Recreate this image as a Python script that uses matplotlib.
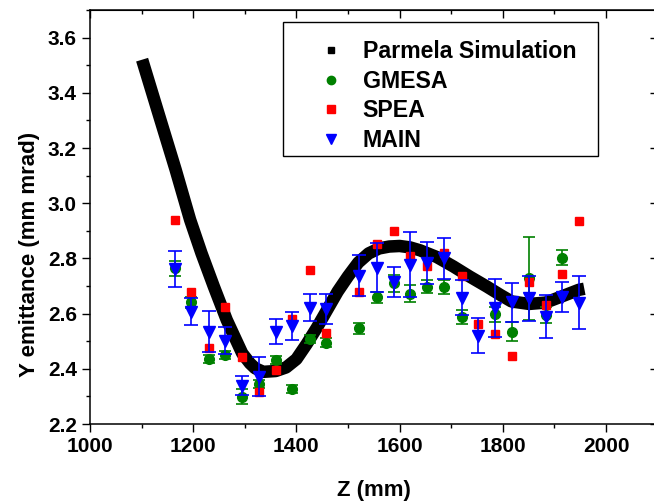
import matplotlib
matplotlib.use('Agg')
import matplotlib.pyplot as plt
from matplotlib.lines import Line2D
from matplotlib.patches import Rectangle
from matplotlib.ticker import MultipleLocator

plt.rcParams['font.family'] = ['Liberation Sans', 'DejaVu Sans']
plt.rcParams['font.weight'] = 'bold'

# Parmela simulation curve
sim_z = [1101, 1135, 1166, 1194, 1216, 1240, 1265, 1295, 1310, 1320, 1336, 1360, 1380,
         1400, 1420, 1440, 1460, 1480, 1500, 1520, 1540, 1560, 1580, 1600, 1620, 1640,
         1672, 1704, 1736, 1769, 1795, 1817, 1851, 1883, 1914, 1947, 1958]
sim_v = [3.52, 3.311, 3.121, 2.94, 2.819, 2.698, 2.577, 2.456, 2.42, 2.402, 2.389, 2.392, 2.405,
         2.435, 2.49, 2.55, 2.615, 2.68, 2.735, 2.785, 2.818, 2.836, 2.843, 2.845, 2.840, 2.829,
         2.805, 2.771, 2.734, 2.698, 2.668, 2.644, 2.635, 2.640, 2.662, 2.686, 2.69]

# measurement positions
z = [1165, 1196, 1230, 1262, 1295, 1328, 1360, 1392, 1426, 1457, 1522, 1556, 1589, 1621,
     1654, 1687, 1720, 1752, 1785, 1817, 1851, 1883, 1914, 1947]

main = [2.762, 2.607, 2.535, 2.502, 2.339, 2.372, 2.535, 2.555, 2.622, 2.616, 2.737, 2.767,
        2.714, 2.777, 2.783, 2.800, 2.658, 2.520, 2.620, 2.641, 2.656, 2.589, 2.660, 2.640]
main_err = [0.065, 0.05, 0.075, 0.05, 0.035, 0.07, 0.045, 0.05, 0.05, 0.055, 0.075, 0.09,
            0.055, 0.117, 0.075, 0.075, 0.063, 0.063, 0.105, 0.07, 0.082, 0.077, 0.053, 0.095]

spea = [2.94, 2.68, 2.475, 2.623, 2.442, 2.317, 2.396, 2.581, 2.759, 2.531, 2.678, 2.852,
        2.901, 2.807, 2.774, 2.819, 2.738, 2.562, 2.526, 2.448, 2.716, 2.632, 2.743, 2.936]

gm_z = [1165, 1196, 1230, 1262, 1295, 1328, 1360, 1392, 1426, 1457, 1522, 1556, 1589, 1621,
        1654, 1687, 1720, 1785, 1817, 1851, 1883, 1914]
gmesa = [2.765, 2.641, 2.435, 2.45, 2.299, 2.345, 2.432, 2.326, 2.508, 2.495, 2.547, 2.66,
         2.71, 2.672, 2.698, 2.696, 2.587, 2.598, 2.535, 2.728, 2.595, 2.803]
gm_err = [0.027, 0.02, 0.015, 0.015, 0.028, 0.015, 0.015, 0.015, 0.015, 0.015, 0.02, 0.02,
          0.03, 0.03, 0.025, 0.025, 0.025, 0.027, 0.036, 0.15, 0.03, 0.027]

labels = ['Parmela Simulation', 'GMESA', 'SPEA', 'MAIN']
yticks = [2.2, 2.4, 2.6, 2.8, 3.0, 3.2, 3.4, 3.6]

W, H = 654, 504
fig = plt.figure(figsize=(6.54, 5.04), dpi=100)
ax = fig.add_axes([90/W, 80/H, 567.6/W, 414/H])

ax.plot(sim_z, sim_v, color='k', lw=9, solid_capstyle='butt', solid_joinstyle='round', zorder=2)
ax.errorbar(gm_z, gmesa, yerr=gm_err, fmt='o', color='green', ms=7, elinewidth=1.2,
            capsize=4.5, capthick=1.2, zorder=3)
ax.plot(z, spea, 's', color='red', ms=6, zorder=4)
ax.errorbar(z, main, yerr=main_err, fmt='v', color='blue', ms=8, elinewidth=1.2,
            capsize=5, capthick=1.2, zorder=5)

ax.set_xlim(1000, 2100)
ax.set_ylim(2.2, 3.7)
ax.set_xticks(range(1000, 2001, 200))
ax.set_yticks(yticks)
ax.set_yticklabels(['%.1f' % v for v in yticks])
ax.xaxis.set_minor_locator(MultipleLocator(100))
ax.yaxis.set_minor_locator(MultipleLocator(0.1))
ax.tick_params(which='both', direction='out', width=1, labelsize=15, top=False, right=False)
ax.tick_params(which='major', length=6)
ax.tick_params(which='minor', length=3)
for s in ax.spines.values():
    s.set_linewidth(1.1)

# inward ticks on top and right, Origin style
top = ax.secondary_xaxis('top')
top.set_xticks(range(1000, 2101, 200))
top.xaxis.set_minor_locator(MultipleLocator(100))
top.tick_params(which='both', direction='in', width=1, labeltop=False)
top.tick_params(which='major', length=6)
top.tick_params(which='minor', length=3)

right = ax.secondary_yaxis('right')
right.set_yticks(yticks)
right.yaxis.set_minor_locator(MultipleLocator(0.1))
right.tick_params(which='both', direction='in', width=1, labelright=False)
right.tick_params(which='major', length=6)
right.tick_params(which='minor', length=3)

ax.set_xlabel('Z (mm)', fontsize=16, fontweight='bold', labelpad=17)
ax.set_ylabel('Y emittance (mm mrad)', fontsize=16, fontweight='bold')
ax.yaxis.set_label_coords(-0.088, 0.41)

# legend: frameless entries + a plain box around them
box = Rectangle((282.7/W, 1 - 156/H), (598.3 - 282.7)/W, (156 - 21.7)/H,
                transform=fig.transFigure, facecolor='white', edgecolor='k', lw=1.0,
                clip_on=False, zorder=4.9)
ax.add_patch(box)

handles = [Line2D([], [], marker='s', ls='none', color='k', ms=5),
           Line2D([], [], marker='o', ls='none', color='green', ms=6),
           Line2D([], [], marker='s', ls='none', color='red', ms=5.5),
           Line2D([], [], marker='v', ls='none', color='blue', ms=6.5)]
leg = ax.legend(handles, labels, loc='upper left', bbox_to_anchor=(307.8/W, 1 - 40.2/H),
                bbox_transform=fig.transFigure, borderaxespad=0, frameon=False,
                prop=dict(weight='bold', size=16.7), handlelength=2.0,
                handletextpad=0.37, borderpad=0, labelspacing=0.284)

fig.savefig('out.png', dpi=100)
